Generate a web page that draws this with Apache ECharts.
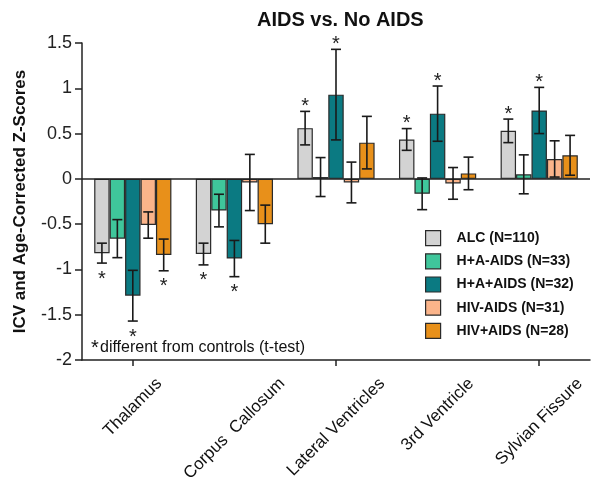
<!DOCTYPE html>
<html><head><meta charset="utf-8">
<script src="https://cdn.jsdelivr.net/npm/echarts@6/dist/echarts.min.js"></script>
<style>html,body{margin:0;padding:0;background:#fff}#c{width:601px;height:491px}</style>
</head><body><div id="c"></div>
<script>
const categories = ['Thalamus', 'Corpus  Callosum', 'Lateral Ventricles', '3rd Ventricle', 'Sylvian Fissure'];
const seriesNames = ['ALC (N=110)', 'H+A-AIDS (N=33)', 'H+A+AIDS (N=32)', 'HIV-AIDS (N=31)', 'HIV+AIDS (N=28)'];
const alcValues = [-0.82, -0.83, 0.56, 0.435, 0.53];
const alcErrors = [0.11, 0.12, 0.185, 0.12, 0.13];
const alcStars = [1, 1, 1, 1, 1];
const haNoAidsValues = [-0.66, -0.35, 0.02, -0.165, 0.05];
const haNoAidsErrors = [0.21, 0.18, 0.215, 0.175, 0.215];
const haNoAidsStars = [0, 0, 0, 0, 0];
const haAidsValues = [-1.29, -0.88, 0.93, 0.72, 0.755];
const haAidsErrors = [0.28, 0.2, 0.5, 0.305, 0.255];
const haAidsStars = [1, 1, 1, 1, 1];
const hivNoAidsValues = [-0.51, -0.04, -0.04, -0.05, 0.22];
const hivNoAidsErrors = [0.145, 0.31, 0.225, 0.175, 0.2];
const hivNoAidsStars = [0, 0, 0, 0, 0];
const hivAidsValues = [-0.84, -0.5, 0.40, 0.06, 0.26];
const hivAidsErrors = [0.175, 0.21, 0.29, 0.18, 0.22];
const hivAidsStars = [1, 0, 0, 0, 0];
const yTicks = [-2, -1.5, -1, -0.5, 0, 0.5, 1, 1.5];

const FONT = '"Liberation Sans", Arial, sans-serif';
const colors = ['#d3d3d3', '#3fc69b', '#0b7a82', '#fbb48a', '#e8901a'];
const allValues = [alcValues, haNoAidsValues, haAidsValues, hivNoAidsValues, hivAidsValues];
const allErrors = [alcErrors, haNoAidsErrors, haAidsErrors, hivNoAidsErrors, hivAidsErrors];
const allStars = [alcStars, haNoAidsStars, haAidsStars, hivNoAidsStars, hivAidsStars];
const GAP = 0.24;
const N = seriesNames.length;

const series = [];
seriesNames.forEach((name, i) => {
  const s = {
    name: name, type: 'bar', data: allValues[i],
    barGap: '0%', barCategoryGap: (GAP * 100) + '%',
    itemStyle: { color: colors[i], borderColor: '#2a2a2a', borderWidth: 1.2 },
    emphasis: { disabled: true }, z: 2
  };
  if (i === 0) {
    s.markLine = {
      silent: true, symbol: 'none', animation: false,
      lineStyle: { color: '#222', type: 'solid', width: 1.5 },
      label: { show: false },
      data: [{ yAxis: 0 }]
    };
  }
  series.push(s);
});
seriesNames.forEach((name, i) => {
  series.push({
    type: 'custom', name: name + '-err', z: 5, silent: true,
    encode: { x: 0, y: 1 },
    data: categories.map((c, k) => [k, allValues[i][k], allErrors[i][k], allStars[i][k]]),
    renderItem: function (params, api) {
      const k = api.value(0), v = api.value(1), e = api.value(2), st = api.value(3);
      const base = api.coord([k, v]);
      const band = api.size([1, 0])[0];
      const groupW = band * (1 - GAP);
      const bw = groupW / N;
      const x = base[0] - groupW / 2 + bw * (i + 0.5);
      const yHi = api.coord([k, v + e])[1];
      const yLo = api.coord([k, v - e])[1];
      const cap = 5;
      const ls = { stroke: '#1a1a1a', lineWidth: 1.6 };
      const children = [
        { type: 'line', shape: { x1: x, y1: yHi, x2: x, y2: yLo }, style: ls },
        { type: 'line', shape: { x1: x - cap, y1: yHi, x2: x + cap, y2: yHi }, style: ls },
        { type: 'line', shape: { x1: x - cap, y1: yLo, x2: x + cap, y2: yLo }, style: ls }
      ];
      if (st) {
        const below = v < 0;
        children.push({
          type: 'text',
          style: {
            text: '*', x: x, y: below ? yLo + 6 : yHi - 15,
            fill: '#222', font: '20px ' + FONT,
            align: 'center', verticalAlign: 'top'
          }
        });
      }
      return { type: 'group', children: children };
    }
  });
});

const chart = echarts.init(document.getElementById('c'), null, { renderer: 'canvas' });
chart.setOption({
  animation: false,
  backgroundColor: '#fff',
  textStyle: { fontFamily: FONT },
  title: {
    text: 'AIDS vs. No AIDS', left: 252, top: 5,
    textStyle: { fontSize: 20, fontWeight: 'bold', color: '#111', fontFamily: FONT }
  },
  legend: {
    orient: 'vertical', left: 420, top: 225,
    itemWidth: 15, itemHeight: 15, itemGap: 7, icon: 'rect',
    data: seriesNames,
    itemStyle: { borderColor: '#2a2a2a', borderWidth: 1.2 },
    textStyle: { fontSize: 14, fontWeight: 'bold', color: '#111', padding: [0, 0, 0, 11], fontFamily: FONT },
    selectedMode: false
  },
  grid: { left: 82, right: 11, top: 43, bottom: 131, containLabel: false },
  xAxis: {
    type: 'category', data: categories,
    axisLine: { show: true, onZero: false, lineStyle: { color: '#222', width: 1.5 } },
    axisTick: { show: true, alignWithLabel: true, length: 6, lineStyle: { color: '#222', width: 1.5 } },
    axisLabel: { show: false }
  },
  yAxis: {
    type: 'value', min: -2, max: 1.5, interval: 0.5,
    name: 'ICV and Age-Corrected Z-Scores', nameLocation: 'middle', nameGap: 53,
    nameTextStyle: { fontSize: 17, fontWeight: 'bold', color: '#111' },
    axisLine: { show: true, lineStyle: { color: '#222', width: 1.5 } },
    axisTick: { show: true, length: 7, lineStyle: { color: '#222', width: 1.5 } },
    axisLabel: { fontSize: 18, color: '#222', margin: 10, formatter: v => yTicks.includes(v) ? String(v) : '' },
    splitLine: { show: false }
  },
  series: series
});

// rotated category labels (centered under each tick, tops aligned)
const LABEL_FONT = '17px ' + FONT;
const ctx = document.createElement('canvas').getContext('2d');
ctx.font = LABEL_FONT;
const labelGraphics = categories.map((c, k) => {
  const p = chart.convertToPixel({ gridIndex: 0 }, [k, -2]);
  const L = ctx.measureText(c).width;
  const r = Math.SQRT1_2 / 2;
  return {
    type: 'text', x: p[0] + r * L, y: 381, rotation: Math.PI / 4, silent: true,
    style: { text: c, font: LABEL_FONT, fill: '#111', align: 'right', verticalAlign: 'middle' }
  };
});
chart.setOption({
  graphic: labelGraphics.concat([
    { type: 'text', left: 91, top: 338, silent: true, style: { text: '*', font: '20px ' + FONT, fill: '#111' } },
    { type: 'text', left: 100, top: 340, silent: true, style: { text: 'different from controls (t-test)', font: '16px ' + FONT, fill: '#111' } }
  ])
});
</script></body></html>
